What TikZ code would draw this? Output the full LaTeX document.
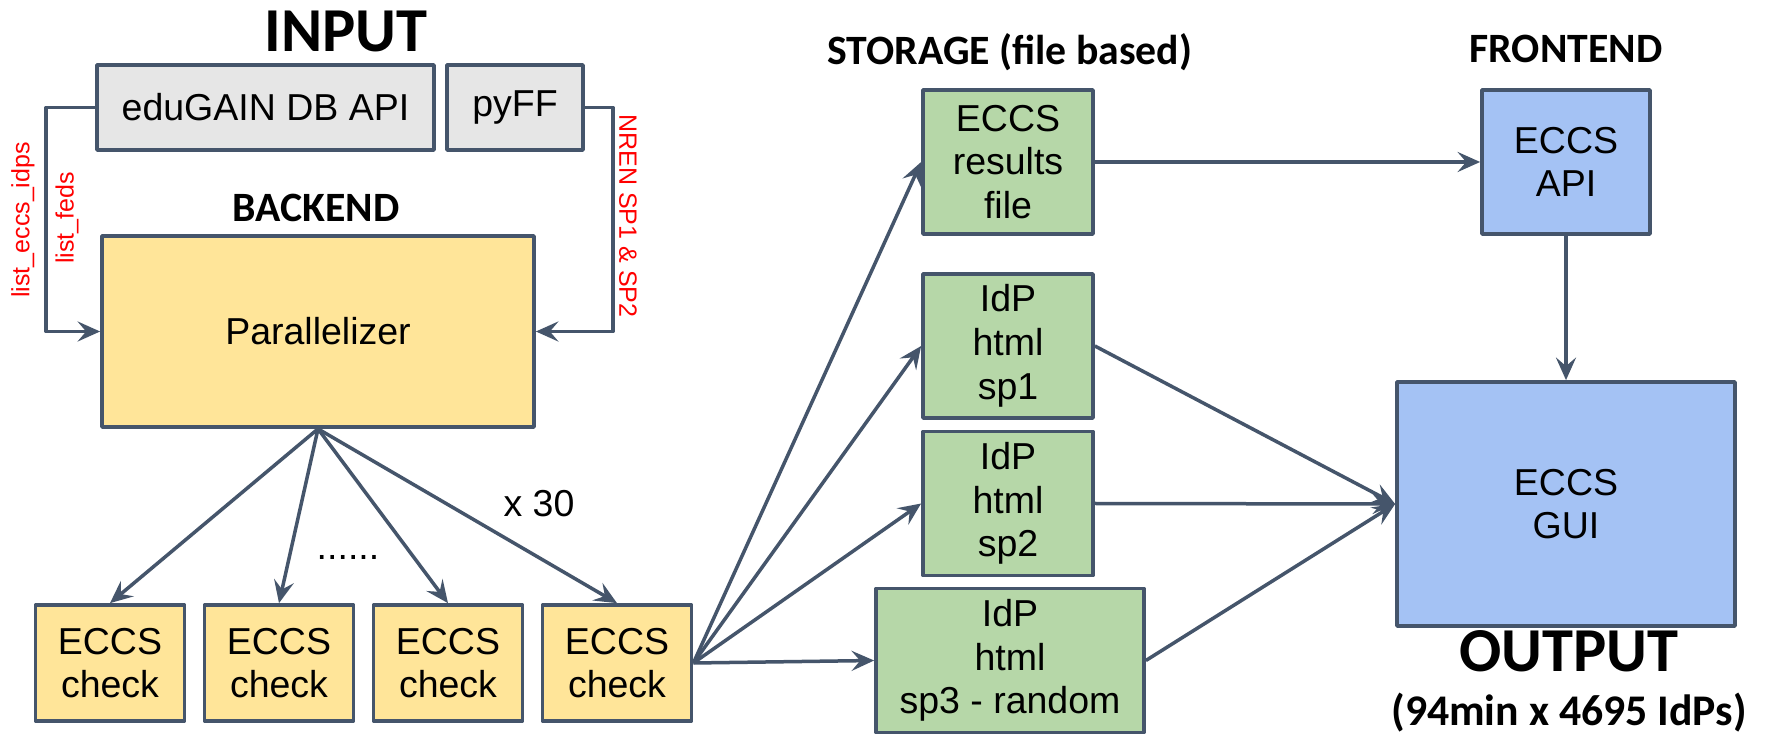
\documentclass[tikz,border=0pt]{standalone}
\usepackage{fontspec}
\setmainfont{Liberation Sans}
\newfontfamily\headfont{Carlito}
\usetikzlibrary{arrows.meta}
\definecolor{edgeblue}{HTML}{45556B}
\definecolor{greybox}{HTML}{E6E6E6}
\definecolor{yellowbox}{HTML}{FFE599}
\definecolor{greenbox}{HTML}{B6D7A8}
\definecolor{bluebox}{HTML}{A4C2F4}
\begin{document}
\begin{tikzpicture}[x=0.4pt, y=-0.4pt, line join=round,
    box/.style={draw=edgeblue, line width=1.5pt, align=center, inner sep=0pt,
                font=\fontsize{15}{17.5}\selectfont},
    flow/.style={draw=edgeblue, line width=1.4pt, -{Stealth[length=9pt,width=8pt,inset=3.4pt]}},
    title/.style={anchor=base, font=\headfont\bfseries\fontsize{16.7}{20}\selectfont},
    bigtitle/.style={anchor=base, font=\headfont\bfseries\fontsize{25}{30}\selectfont},
    redlabel/.style={text=red, inner sep=0pt, font=\fontsize{10}{12}\selectfont}] %1
        \path[fill=white, use as bounding box] (0,0) rectangle (1767,738);

        % input
        \node[bigtitle] (inputtitle) at (346,52) {INPUT};
        \node[box, fill=greybox, minimum width=134.8pt, minimum height=34pt] (edugain) at (265.5,107.5) {eduGAIN DB API};
        \node[box, fill=greybox, minimum width=54.4pt, minimum height=34pt] (pyff) at (515,107.5) {pyFF};

        % backend
        \node[title] (backendtitle) at (316,222) {BACKEND};
        \node[box, fill=yellowbox, minimum width=172.8pt, minimum height=76.4pt] (par) at (318,331.5) {Parallelizer};
        \foreach \i/\x in {1/110,2/279,3/448,4/617}
            \node[box, fill=yellowbox, minimum width=59.6pt, minimum height=46.4pt] (chk\i) at (\x,663) {ECCS\\check};
        \node[anchor=base, font=\fontsize{15}{18}\selectfont] (dots) at (348,560) {......};
        \node[anchor=base, font=\fontsize{15}{18}\selectfont] (times) at (539,517) {x 30};

        \node[redlabel, rotate=90] (lblidps) at (23,220) {list\_eccs\_idps};
        \node[redlabel, rotate=90] (lblfeds) at (67,218) {list\_feds};
        \node[redlabel, rotate=-90] (lblnren) at (628,216) {NREN SP1 \& SP2};

        % storage
        \node[title] (storagetitle) at (1010,65) {STORAGE (file based)};
        \node[box, fill=greenbox, minimum width=68pt, minimum height=57.6pt] (res) at (1008,162) {ECCS\\results\\file};
        \node[box, fill=greenbox, minimum width=68pt, minimum height=57.6pt] (sp1) at (1008,346) {IdP\\html\\sp1};
        \node[box, fill=greenbox, minimum width=68pt, minimum height=57.6pt] (sp2) at (1008,503.5) {IdP\\html\\sp2};
        \node[box, fill=greenbox, minimum width=107.2pt, minimum height=57.6pt] (sp3) at (1010,660.5) {IdP\\html\\sp3 - random};

        % frontend
        \node[title] (frontendtitle) at (1566,63) {FRONTEND};
        \node[box, fill=bluebox, minimum width=67.2pt, minimum height=57.6pt] (api) at (1566,162) {ECCS\\API};
        \node[box, fill=bluebox, minimum width=135.2pt, minimum height=97.6pt] (gui) at (1566,504) {ECCS\\GUI};
        \node[bigtitle] (outputtitle) at (1569,672) {OUTPUT};
        \node[anchor=base, font=\headfont\bfseries\fontsize{17.5}{20}\selectfont] (outputnote) at (1569,725) {(94min x 4695 IdPs)};

        % connectors
        \draw[flow] (edugain.west) -- ++(-49,0) |- (par.west);
        \draw[flow] (pyff.east) -- ++(28,0) |- (par.east);
        \foreach \i in {1,...,4}
            \draw[flow] (par.south) -- (chk\i.north);
        \foreach \t in {res,sp1,sp2,sp3}
            \draw[flow] (chk4.east) -- (\t.west);
        \draw[flow] (res) -- (api);
        \draw[flow] (api) -- (gui);
        \foreach \t in {sp1,sp2,sp3}
            \draw[flow] (\t.east) -- (gui.west);
\end{tikzpicture}
\end{document}
